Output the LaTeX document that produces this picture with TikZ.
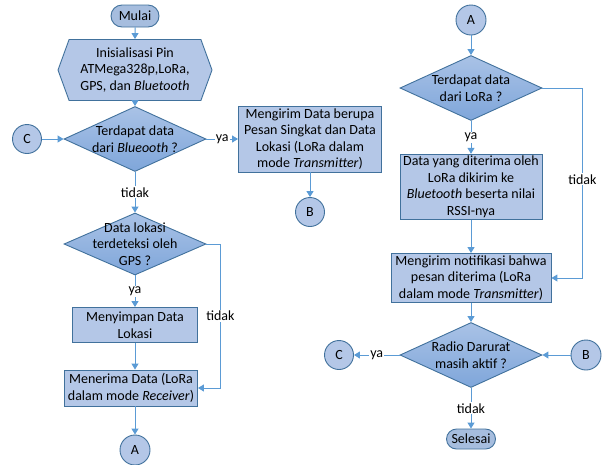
\documentclass[tikz,border=0pt]{standalone}
\usepackage{fontspec}
\setmainfont{Carlito}
\definecolor{flowfill}{HTML}{B4C7E7}
\definecolor{flowline}{HTML}{5B9BD5}
\definecolor{flowedge}{HTML}{41719C}
\definecolor{dectop}{HTML}{A9C2E6}
\definecolor{decbot}{HTML}{7FA6DA}
\usetikzlibrary{arrows.meta,shapes.geometric,shapes.symbols}

\begin{document}
\begin{tikzpicture}[x=1pt,y=-1pt,font=\fontsize{14}{16.5}\selectfont,
  proc/.style={draw=flowedge,fill=flowfill,line width=0.9pt,align=center,inner sep=2pt},
  dec/.style={diamond,draw=flowedge,top color=dectop,bottom color=decbot,line width=0.9pt,minimum width=142pt,minimum height=65pt,inner sep=0pt},
  con/.style={circle,draw=flowedge,fill=flowfill,line width=0.9pt,minimum size=29pt,inner sep=0pt},
  term/.style={draw=flowedge,fill=flowfill!88!flowedge,line width=0.9pt,rounded corners=11pt,minimum height=22pt,inner sep=2pt},
  lbl/.style={fill=white,text=black,inner sep=1pt},
  arr/.style={-{Triangle[length=6pt,width=7pt]},flowline,line width=1pt}]
\useasboundingbox (0,0) rectangle (604,464);
% left column
\node[term,minimum width=48pt] (mulai) at (135,16) {Mulai};
\node[proc,signal,signal to=west and east,signal pointer angle=140,minimum width=154pt,minimum height=61pt] (init) at (135,70) {Inisialisasi Pin\\ATMega328p,LoRa,\\GPS, dan \textit{Bluetooth}};
\node[dec,label={[align=center]center:Terdapat data\\dari \textit{Blueooth} ?}] (cekbt) at (135,139) {};
\node[con] (c1) at (27,139) {C};
\node[proc,minimum width=143pt,minimum height=66pt] (kirim) at (310,139) {Mengirim Data berupa\\Pesan Singkat dan Data\\Lokasi (LoRa dalam\\mode \textit{Transmitter})};
\node[con] (b1) at (310,212) {B};
\node[dec,minimum height=62pt,label={[align=center]center:Data lokasi\\terdeteksi oleh\\GPS ?}] (cekgps) at (135,244) {};
\node[proc,minimum width=125pt,minimum height=35pt] (simpan) at (135,325) {Menyimpan Data\\Lokasi};
\node[proc,minimum width=133pt,minimum height=36pt] (terima) at (131,388) {Menerima Data (LoRa\\dalam mode \textit{Receiver})};
\node[con,minimum size=30pt] (a1) at (135,450) {A};
% right column
\node[con,minimum size=30pt] (a2) at (471,20) {A};
\node[dec,label={[align=center]center:Terdapat data\\dari LoRa ?}] (ceklora) at (471,88) {};
\node[proc,minimum width=142pt,minimum height=64pt] (teruskan) at (471,187) {Data yang diterima oleh\\LoRa dikirim ke\\\textit{Bluetooth} beserta nilai\\RSSI-nya};
\node[proc,minimum width=160pt,minimum height=49pt] (notif) at (471,278) {Mengirim notifikasi bahwa\\pesan diterima (LoRa\\dalam mode \textit{Transmitter})};
\node[dec,label={[align=center]center:Radio Darurat\\masih aktif ?}] (cekaktif) at (471,355) {};
\node[con] (c2) at (339,355) {C};
\node[con,minimum size=30pt] (b2) at (586,355) {B};
\node[term,minimum width=49pt,minimum height=20pt,rounded corners=10pt] (selesai) at (471,439) {Selesai};
% connectors
\draw[arr] (mulai) -- (init);
\draw[arr] (init) -- (cekbt);
\draw[arr] (c1) -- (cekbt);
\draw[arr] (cekbt) -- node[lbl]{ya} (kirim);
\draw[arr] (kirim) -- (b1);
\draw[arr] (cekbt) -- node[lbl]{tidak} (cekgps);
\draw[arr] (cekgps) -- node[lbl]{ya} (simpan);
\draw[arr] (simpan.south) -- (simpan.south |- terima.north);
\draw[arr] (cekgps.east) -- ++(14,0) |- node[lbl,pos=0.25]{tidak} (terima.east);
\draw[arr] (terima.south -| a1) -- (a1);
\draw[arr] (a2) -- (ceklora);
\draw[arr] (ceklora) -- node[lbl]{ya} (teruskan);
\draw[arr] (ceklora.east) -- ++(40,0) |- node[lbl,pos=0.24]{tidak} (notif.east);
\draw[arr] (teruskan) -- (notif);
\draw[arr] (notif) -- (cekaktif);
\draw[arr] (cekaktif) -- node[lbl]{ya} (c2);
\draw[arr] (b2) -- (cekaktif);
\draw[arr] (cekaktif) -- node[lbl]{tidak} (selesai);
\end{tikzpicture}
\end{document}
